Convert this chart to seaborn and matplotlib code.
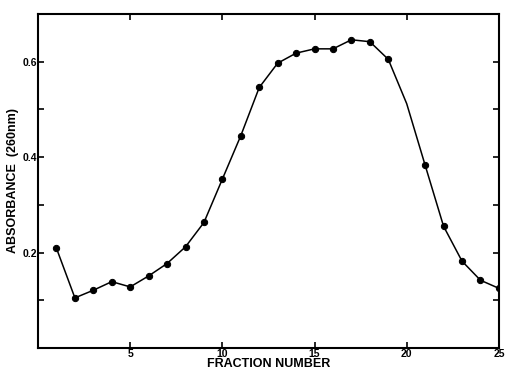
# Absorbance profile of column fractions (260 nm)

import numpy as np
import pandas as pd
import seaborn as sns
import matplotlib
matplotlib.use("Agg")
import matplotlib.pyplot as plt

# data
fraction = list(range(1, 26))
absorbance = [0.209, 0.105, 0.121, 0.139, 0.128, 0.151, 0.177, 0.212, 0.263, 0.354,
              0.445, 0.546, 0.597, 0.618, 0.627, 0.627, 0.646, 0.642, 0.605, 0.512,
              0.383, 0.255, 0.182, 0.142, 0.125]
x_ticks = [5, 10, 15, 20, 25]
y_ticks = [0.1, 0.2, 0.3, 0.4, 0.5, 0.6]
y_labels = ["", "0.2", "", "0.4", "", "0.6"]

df = pd.DataFrame({"fraction": fraction, "absorbance": absorbance})

sns.set_style("ticks")
plt.rcParams["font.family"] = ["Liberation Sans", "DejaVu Sans"]
plt.rcParams["text.color"] = "black"
plt.rcParams["axes.labelcolor"] = "black"
plt.rcParams["xtick.color"] = "black"
plt.rcParams["ytick.color"] = "black"
plt.rcParams["axes.edgecolor"] = "black"

fig = plt.figure(figsize=(5.07, 3.69), dpi=100)
ax = fig.add_axes([0.075, 0.057, 0.909, 0.905])

# the point at fraction 20 has no visible marker in the original
marks = [i for i in range(len(fraction)) if fraction[i] != 20]
sns.lineplot(data=df, x="fraction", y="absorbance", ax=ax, color="black",
             linewidth=1.1, marker="o", markersize=4.5, markevery=marks,
             markeredgecolor="black")

ax.set_xlim(0, 25)
ax.set_ylim(0, 0.7)
ax.set_xticks(x_ticks)
ax.set_xticklabels([str(t) for t in x_ticks], fontsize=7.5, fontweight="bold")
ax.set_yticks(y_ticks)
ax.set_yticklabels(y_labels, fontsize=7.5, fontweight="bold")
ax.tick_params(direction="in", length=4, width=1.2, pad=1,
               top=True, right=True, bottom=True, left=True)
for s in ax.spines.values():
    s.set_linewidth(1.5)
    s.set_visible(True)

ax.set_xlabel("FRACTION NUMBER", fontsize=9, fontweight="bold", labelpad=-1)
ax.set_ylabel("ABSORBANCE  (260nm)", fontsize=9, fontweight="bold", labelpad=2)

fig.savefig("out.png", dpi=100)
